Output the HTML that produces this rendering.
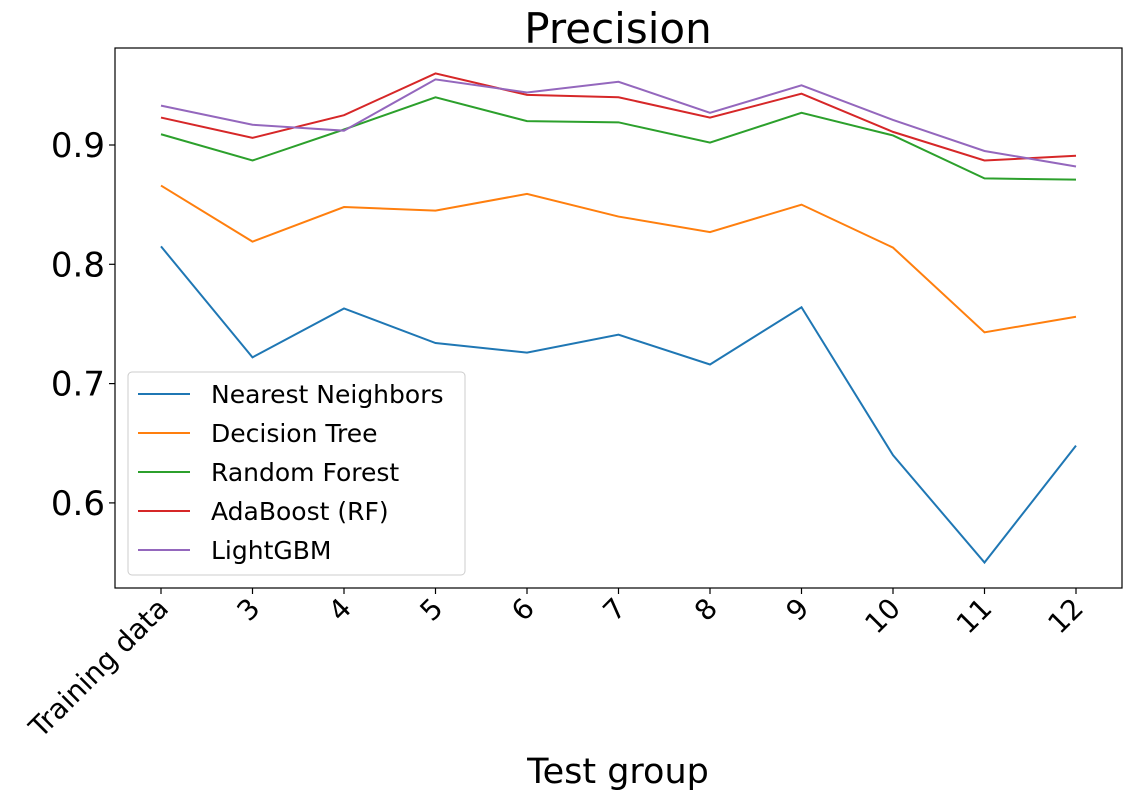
<!DOCTYPE html>
<html><head><meta charset="utf-8"><style>
body{margin:0;background:#fff;}
svg text{font-family:"DejaVu Sans","Liberation Sans",sans-serif;fill:#000;}
</style></head><body>
<svg width="1132" height="798" xmlns="http://www.w3.org/2000/svg">
<g id="plot"></g>
</svg>
<script>
const categories=["Training data","3","4","5","6","7","8","9","10","11","12"];
const seriesNames=["Nearest Neighbors","Decision Tree","Random Forest","AdaBoost (RF)","LightGBM"];
const colors=["#1f77b4","#ff7f0e","#2ca02c","#d62728","#9467bd"];
const nn=[0.815,0.722,0.763,0.734,0.726,0.741,0.716,0.764,0.640,0.550,0.648];
const dt=[0.866,0.819,0.848,0.845,0.859,0.840,0.827,0.850,0.814,0.743,0.756];
const rf=[0.909,0.887,0.913,0.940,0.920,0.919,0.902,0.927,0.908,0.872,0.871];
const ada=[0.923,0.906,0.925,0.960,0.942,0.940,0.923,0.943,0.911,0.887,0.891];
const lgbm=[0.933,0.917,0.912,0.955,0.944,0.953,0.927,0.950,0.921,0.895,0.882];
const yTicks=[0.6,0.7,0.8,0.9];
const seriesData=[nn,dt,rf,ada,lgbm];
const NS="http://www.w3.org/2000/svg";
const g=document.getElementById('plot');
const L=115,R=1122,T=48,B=588;
const xS=i=>161+i*91.5;
const yS=v=>145+(0.9-v)*1193;
function mk(t,a,txt){const e=document.createElementNS(NS,t);for(const k in a)e.setAttribute(k,a[k]);if(txt!==undefined)e.textContent=txt;g.appendChild(e);return e;}
let e;
e=mk('rect',{x:L,y:T,width:R-L,height:B-T,fill:'none',stroke:'#000','stroke-width':1.2});


yTicks.forEach(v=>{const y=yS(v);
e=mk('line',{x1:L-6,x2:L,y1:y,y2:y,stroke:'#000','stroke-width':1.2});


e=mk('text',{x:L-10,y:y+12,'text-anchor':'end','font-size':34},v.toFixed(1));

});
categories.forEach((c,i)=>{const x=xS(i);
e=mk('line',{x1:x,x2:x,y1:B,y2:B+6,stroke:'#000','stroke-width':1.2});


e=mk('text',{x:x+9,y:B+22,'text-anchor':'end','font-size':28,transform:`rotate(-45 ${x+9} ${B+22})`},c);

});
seriesData.forEach((d,s)=>{
e=mk('polyline',{points:d.map((v,i)=>xS(i)+','+yS(v)).join(' '),fill:'none',stroke:colors[s],'stroke-width':2});

});
e=mk('text',{x:618,y:43,'text-anchor':'middle','font-size':42},'Precision');


e=mk('text',{x:618,y:783,'text-anchor':'middle','font-size':35},'Test group');


e=mk('rect',{x:128,y:372,width:337,height:203,rx:4,fill:'#fff','fill-opacity':0.85,stroke:'#ccc','stroke-width':1});


seriesNames.forEach((n,s)=>{const y=394+s*39;
e=mk('line',{x1:138,x2:190,y1:y,y2:y,stroke:colors[s],'stroke-width':2});


e=mk('text',{x:211,y:y+9,'font-size':25},n);

});
</script>
</body></html>
